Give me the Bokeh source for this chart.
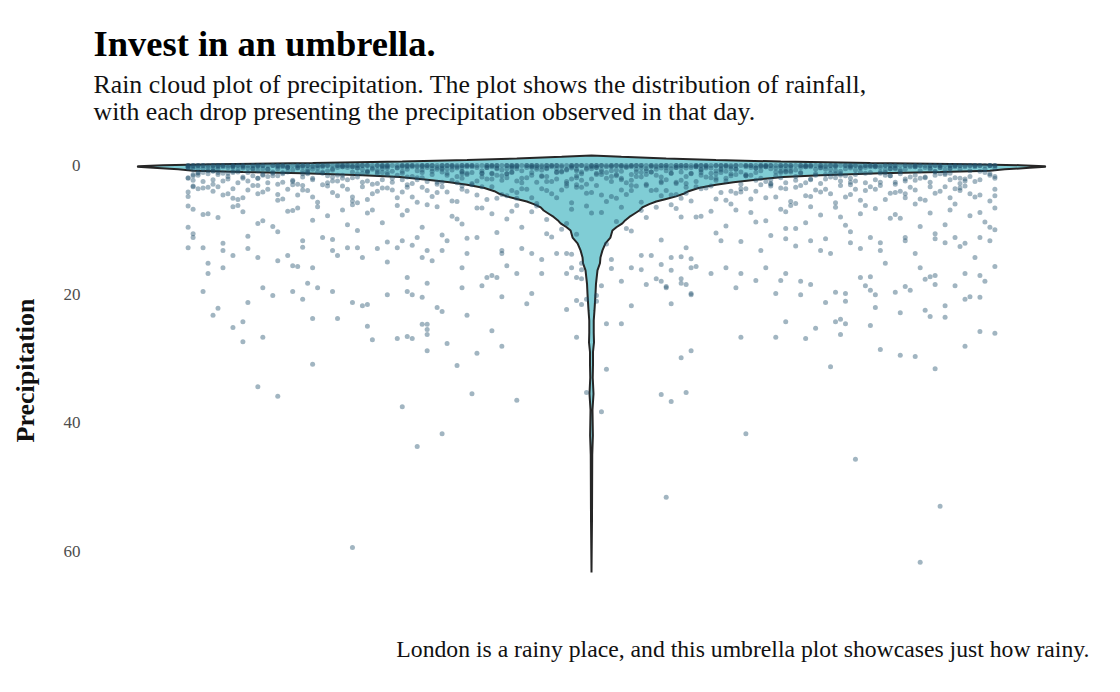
from bokeh.plotting import figure
from bokeh.models import Range1d, FixedTicker, Title
from bokeh.embed import file_html
from bokeh.resources import INLINE

title_text = "Invest in an umbrella."
subtitle_lines = [
    "Rain cloud plot of precipitation. The plot shows the distribution of rainfall,",
    "with each drop presenting the precipitation observed in that day.",
]
caption_text = "London is a rainy place, and this umbrella plot showcases just how rainy."
y_label = "Precipitation"
precip_ticks = [0, 20, 40, 60]

# violin outline: precipitation level (mm) and half width (x units, frame spans -100..100)
violin_level = [-1.55, -1.35, -1.1, -0.85, -0.62, -0.4, -0.2, -0.05, 0.1, 0.2, 0.35, 0.6, 0.8,
                1.0, 1.2, 1.5, 1.8, 2.2, 2.6, 3.0, 3.5, 4.0, 4.4, 4.8, 5.2, 5.6, 6.0, 6.5, 7.0,
                7.5, 8.0, 8.5, 9.0, 9.6, 10.1, 11.2, 12.1, 13.2, 14.3, 15.2, 16.3, 18.4, 20.0,
                22.5, 24.1, 26.0, 27.5, 29.0, 31.0, 33.0, 35.5, 38.0, 42.0, 45.0, 55.0, 63.3]
violin_halfwidth = [0, 6, 15, 25, 38, 56, 76, 86, 91, 91.2, 88, 83, 80,
                    70, 58, 46, 38.5, 33, 28.5, 25, 21.5, 19.5, 18.5, 17, 15, 13, 11.6, 10.2, 9.6,
                    8.6, 7.6, 6.8, 6.2, 5.0, 4.2, 3.8, 2.8, 2.2, 1.8, 1.7, 1.2, 0.9, 0.8,
                    0.6, 0.45, 0.45, 0.5, 0.3, 0.3, 0.25, 0.4, 0.2, 0.28, 0.15, 0.1, 0]

# dry days (0 mm), horizontal jitter
dry_day_jitter = [
    -81, -79, -78, -75, -73, -72, -70, -67, -66, -64, -61, -60, -58, -56, -53, -52, -50, -48, -45, -44,
    -42, -39, -38, -36, -34, -31, -30, -28, -25, -24, -22, -20, -17, -16, -14, -11, -10, -8, -6, -3,
    -2, 0, 2, 4, 7, 8, 10, 13, 14, 16, 18, 21, 22, 24, 27, 28, 30, 33, 34, 36,
    38, 41, 42, 44, 47, 48, 50, 53, 54, 56, 59, 60, 62, 64, 67, 68, 70, 73, 74, 76, 78, 80,
    -80, -77, -76, -74, -71, -69, -68, -65, -63, -62, -59, -57, -55, -54, -51, -49, -47, -46, -43, -41,
    -40, -37, -35, -33, -32, -29, -27, -26, -23, -21, -19, -18, -15, -13, -12, -9, -7, -5, -4, -1,
    1, 3, 5, 6, 9, 11, 12, 15, 17, 19, 20, 23, 25, 26, 29, 31, 32, 35, 37, 39,
    40, 43, 45, 46, 49, 51, 52, 55, 57, 58, 61, 63, 65, 66, 69, 71, 72, 75, 77, 79, 81,
    -80, -76, -72, -68, -64, -59, -55, -51, -47, -43, -38, -34, -30, -26, -21, -17, -13, -9, -4, 0,
    4, 8, 12, 17, 21, 25, 29, 34, 38, 42, 46, 51, 55, 59, 63, 68, 72, 76, 80,
    -81, -78, -74, -70, -66, -62, -57, -53, -49, -45, -41, -36, -32, -28, -24, -19, -15, -11, -7, -2,
    2, 6, 10, 15, 19, 23, 27, 32, 36, 40, 44, 49, 53, 57, 61, 66, 70, 74, 78, 81,
    -79, -75, -71, -67, -63, -58, -54, -50, -46, -42, -37, -33, -29, -25, -20, -16, -12, -8, -3, 1,
    5, 9, 14, 18, 22, 26, 31, 35, 39, 43, 48, 52, 56, 60, 65, 69, 73, 77, 80,
]

# drizzle days (0.2 - 1.4 mm)
drizzle_jitter = [
    -80, -75, -69, -64, -58, -53, -47, -42, -37, -31, -26, -20, -15, -9, -4, 2, 7, 13, 18, 24, 29, 35, 40, 46, 51, 57, 62, 68, 73, 79,
    -78, -72, -67, -61, -56, -50, -45, -39, -34, -28, -23, -17, -12, -6, -1, 4, 10, 15, 21, 26, 32, 37, 43, 48, 54, 59, 65, 70, 76, 81,
    -81, -76, -70, -65, -59, -54, -49, -43, -38, -32, -27, -22, -16, -11, -5, 0, 6, 11, 17, 22, 28, 33, 39, 44, 50, 55, 61, 66, 72, 77,
    -79, -74, -71, -66, -62, -57, -51, -46, -41, -35, -30, -24, -18, -13, -7, -2, 3, 9, 14, 20, 25, 31, 36, 41, 47, 52, 58, 63, 69, 75,
    -77, -73, -68, -63, -60, -55, -48, -44, -40, -33, -29, -25, -19, -14, -10, -3, 1, 5, 12, 16, 23, 27, 34, 38, 45, 49, 56, 60, 67, 71,
    -81, -76, -72, -65, -61, -56, -52, -45, -41, -36, -31, -26, -21, -15, -10, -4, 0, 7, 11, 18, 22, 27, 33, 38, 42, 49, 53, 60, 64, 74,
    -80, -77, -73, -67, -63, -58, -54, -47, -43, -39, -34, -28, -24, -19, -12, -8, -3, 2, 6, 13, 17, 24, 28, 35, 39, 46, 50, 57, 62, 70,
    -79, -75, -70, -66, -61, -57, -50, -46, -42, -37, -32, -27, -21, -17, -11, -6, -1, 4, 10, 15, 21, 26, 31, 37, 43, 47, 54, 58, 65, 72,
    -81, -76, -72, -68, -62, -59, -52, -48, -44, -38, -35, -30, -26, -22, -16, -9, -5, 1, 8, 12, 19, 23, 29, 34, 40, 45, 52, 61, 68, 78,
]
drizzle_mm = [
    0.2, 0.6, 0.4, 1.0, 0.2, 0.8, 0.4, 0.2, 0.6, 0.3, 0.9, 0.2, 0.5, 0.4, 0.2, 0.7, 0.3, 0.2, 1.0, 0.4, 0.6, 0.2, 0.8, 0.3, 0.5, 0.2, 0.9, 0.4, 0.2, 0.6,
    0.5, 0.2, 0.8, 0.3, 0.6, 0.2, 1.0, 0.4, 0.2, 0.7, 0.3, 0.5, 0.2, 0.9, 0.6, 0.2, 0.4, 0.8, 0.2, 0.5, 0.3, 1.0, 0.2, 0.6, 0.4, 0.7, 0.2, 0.3, 0.8, 0.4,
    0.3, 0.9, 0.2, 0.6, 0.4, 1.0, 0.3, 0.7, 0.2, 0.5, 0.2, 0.8, 0.4, 0.3, 0.6, 0.2, 0.9, 0.5, 0.3, 0.7, 0.2, 0.4, 0.6, 0.2, 0.9, 0.3, 0.5, 0.8, 0.4, 0.2,
    0.4, 0.2, 0.7, 0.5, 0.2, 0.9, 0.3, 0.6, 0.2, 0.8, 0.4, 0.2, 0.7, 0.3, 0.5, 1.0, 0.2, 0.6, 0.4, 0.3, 0.8, 0.2, 0.5, 0.7, 0.2, 0.4, 0.3, 0.6, 0.9, 0.2,
    0.8, 0.3, 0.5, 0.2, 0.7, 0.4, 0.2, 0.6, 0.9, 0.3, 0.5, 0.2, 0.4, 0.8, 0.2, 0.6, 0.3, 0.7, 0.2, 0.5, 0.4, 0.9, 0.2, 0.3, 0.6, 0.8, 0.2, 0.5, 0.3, 0.7,
    0.2, 0.4, 0.9, 0.6, 0.3, 0.2, 0.5, 0.8, 0.4, 0.2, 0.6, 1.0, 0.3, 0.2, 0.7, 0.4, 0.5, 0.2, 0.8, 0.3, 0.6, 0.2, 0.4, 0.9, 0.3, 0.2, 0.7, 0.5, 0.2, 0.6,
    0.6, 0.3, 1.2, 0.2, 0.5, 0.9, 0.2, 0.4, 1.3, 0.3, 0.7, 0.2, 1.1, 0.5, 0.3, 0.2, 0.8, 1.4, 0.2, 0.6, 0.3, 1.2, 0.5, 0.2, 0.9, 0.4, 1.3, 0.2, 0.7, 0.3,
    1.1, 0.2, 0.4, 1.4, 0.3, 0.6, 0.2, 1.2, 0.5, 0.2, 0.9, 0.4, 0.3, 1.3, 0.6, 0.2, 0.4, 0.8, 1.1, 0.3, 0.2, 0.7, 1.4, 0.4, 0.2, 0.6, 0.3, 1.0, 0.2, 0.5,
    0.4, 0.8, 0.2, 0.5, 1.1, 0.3, 0.7, 0.2, 0.4, 0.9, 0.2, 0.6, 0.3, 1.2, 0.2, 0.5, 0.7, 0.3, 0.2, 1.0, 0.4, 0.2, 0.6, 0.8, 0.3, 1.3, 0.2, 0.4, 0.6, 0.9,
]

# light rain days (1 - 3 mm)
light_jitter = [
    -79, -74, -68, -63, -57, -52, -46, -41, -35, -30, -24, -19, -13, -8, -2, 3, 9, 14, 20, 25, 31, 36, 42, 47, 53, 58, 64, 69, 75, 80,
    -81, -77, -71, -66, -60, -55, -48, -44, -38, -33, -27, -21, -16, -10, -5, 1, 6, 12, 17, 23, 28, 34, 39, 45, 50, 56, 61, 67, 72, 78,
    -80, -73, -69, -62, -58, -51, -47, -40, -36, -29, -25, -18, -14, -7, -3, 4, 8, 15, 19, 26, 30, 37, 41, 48, 52, 59, 63, 70, 74, 81,
    -78, -75, -70, -64, -59, -53, -49, -42, -37, -31, -26, -20, -15, -9, -4, 2, 7, 13, 18, 24, 29, 35, 40, 46, 51, 57, 62, 68, 73, 79,
    -80, -76, -71, -65, -60, -54, -50, -43, -39, -34, -28, -22, -17, -11, -6, 0, 5, 11, 16, 22, 27, 33, 38, 44, 49, 55, 60, 66, 71, 77,
    -81, -75, -69, -64, -58, -53, -48, -42, -36, -31, -25, -20, -14, -9, -3, 3, 8, 14, 19, 25, 30, 36, 41, 47, 52, 58, 63, 69, 74, 80,
    -78, -73, -67, -62, -56, -51, -45, -40, -34, -29, -23, -18, -12, -7, -1, 5, 10, 16, 21, 27, 32, 38, 43, 49, 54, 60, 65, 71, 76, 81,
    -80, -74, -70, -65, -61, -56, -50, -45, -41, -35, -30, -26, -20, -16, -10, -5, 1, 6, 11, 17, 22, 28, 33, 39, 44, 50, 55, 61, 67, 72,
    -79, -76, -72, -67, -63, -57, -52, -47, -43, -38, -32, -27, -22, -17, -12, -7, -2, 4, 9, 14, 20, 25, 31, 36, 42, 48, 53, 59, 65, 75,
]
light_mm = [
    1.2, 2.4, 1.6, 2.9, 1.1, 1.8, 2.6, 1.4, 2.2, 1.0, 2.8, 1.5, 1.9, 2.5, 1.3, 2.0, 1.7, 2.7, 1.2, 2.3, 1.6, 2.9, 1.1, 2.1, 1.4, 2.6, 1.8, 1.0, 2.4, 1.5,
    2.0, 1.3, 2.7, 1.5, 2.3, 1.0, 1.9, 2.9, 1.2, 2.5, 1.7, 2.1, 1.1, 1.6, 2.8, 1.4, 2.2, 1.0, 2.6, 1.8, 1.3, 2.0, 2.7, 1.5, 2.4, 1.1, 2.9, 1.9, 1.2, 2.2,
    1.6, 2.1, 1.1, 2.6, 1.8, 2.4, 1.3, 2.0, 2.8, 1.5, 1.2, 2.3, 2.7, 1.0, 1.9, 2.5, 1.4, 2.2, 1.7, 1.1, 2.9, 1.6, 2.3, 1.2, 2.0, 1.5, 2.4, 1.3, 2.8, 1.7,
    2.5, 1.4, 2.0, 1.2, 2.9, 1.6, 2.2, 1.1, 1.8, 2.6, 2.0, 1.3, 2.4, 1.7, 2.1, 1.0, 2.7, 1.5, 2.3, 1.9, 1.4, 2.5, 1.0, 2.8, 1.6, 2.2, 1.3, 2.6, 1.9, 1.1,
    1.4, 2.2, 1.0, 1.7, 2.5, 1.2, 2.0, 2.8, 1.5, 1.1, 2.3, 1.8, 1.3, 2.6, 1.0, 2.1, 1.6, 2.9, 1.2, 1.5, 2.4, 1.1, 1.9, 2.2, 1.3, 2.7, 1.6, 2.0, 1.4, 2.5,
    1.9, 1.1, 2.4, 1.6, 1.3, 2.7, 1.0, 2.2, 1.7, 2.9, 1.4, 1.2, 2.0, 2.5, 1.6, 1.1, 2.3, 1.8, 2.8, 1.3, 1.0, 2.2, 1.7, 1.4, 2.6, 1.2, 2.1, 1.5, 2.0, 1.3,
    1.1, 1.7, 2.0, 1.3, 2.2, 1.5, 1.0, 2.6, 1.9, 1.2, 2.4, 1.6, 1.1, 2.1, 2.9, 1.4, 1.8, 1.2, 2.5, 2.0, 1.5, 1.1, 2.7, 1.9, 1.0, 1.6, 2.3, 1.2, 1.7, 2.0,
    2.3, 1.2, 1.8, 2.7, 1.0, 2.0, 1.5, 2.4, 1.1, 1.9, 2.6, 1.3, 2.1, 1.0, 1.7, 2.5, 1.2, 2.0, 1.4, 2.8, 1.1, 1.6, 2.3, 1.0, 2.1, 1.5, 1.2, 2.6, 1.8, 2.2,
    1.5, 2.9, 1.1, 2.0, 1.6, 1.3, 2.4, 1.8, 1.0, 2.2, 1.4, 2.7, 1.2, 1.9, 1.5, 1.1, 2.3, 1.7, 1.0, 2.5, 1.3, 2.0, 1.6, 2.8, 1.2, 1.8, 2.4, 1.1, 1.5, 2.1,
]

# moderate rain days (3 - 6 mm)
moderate_jitter = [
    -80, -74, -69, -63, -58, -52, -47, -41, -36, -30, -25, -19, -14, -8, -3, 3, 8, 14, 19, 25, 30, 36, 41, 47, 52, 58, 63, 69, 74, 80,
    -81, -77, -71, -66, -61, -55, -50, -44, -39, -33, -28, -22, -17, -11, -6, 0, 5, 11, 16, 22, 27, 33, 38, 44, 49, 55, 60, 66, 71, 77,
    -79, -72, -67, -60, -56, -49, -45, -38, -34, -27, -23, -16, -12, -5, -1, 6, 10, 17, 21, 28, 32, 39, 43, 50, 54, 61, 65, 72, 76, 81,
    -81, -75, -70, -65, -59, -54, -48, -43, -37, -32, -26, -21, -15, -10, -4, 1, 7, 12, 18, 23, 29, 34, 40, 45, 51, 56, 62, 67, 73, 78,
    -78, -73, -68, -62, -57, -51, -46, -40, -35, -29, -24, -18, -13, -7, -2, 4, 9, 15, 20, 26, 31, 37, 42, 48, 53, 59, 64, 70, 75, 81,
    -80, -76, -72, -67, -63, -58, -53, -48, -42, -37, -31, -26, -20, -15, -9, -3, 2, 8, 13, 19, 24, 30, 35, 41, 46, 52, 57, 63, 68, 74,
]
moderate_mm = [
    3.2, 4.6, 3.8, 5.4, 3.1, 4.2, 5.8, 3.5, 4.9, 3.3, 4.0, 5.1, 3.6, 4.4, 3.0, 5.6, 3.9, 4.7, 3.4, 5.2, 4.1, 3.2, 5.9, 3.7, 4.5, 3.1, 5.0, 4.3, 3.5, 5.5,
    4.8, 3.4, 5.3, 4.1, 3.7, 5.7, 3.2, 4.4, 5.0, 3.9, 5.5, 3.3, 4.7, 5.9, 3.8, 4.2, 5.1, 3.1, 4.6, 3.6, 5.4, 4.0, 3.5, 4.8, 5.8, 3.9, 4.3, 5.2, 3.3, 4.9,
    3.6, 5.1, 4.4, 3.0, 4.9, 3.7, 5.3, 4.1, 3.4, 5.6, 4.6, 3.9, 5.0, 3.2, 4.3, 3.8, 5.7, 4.5, 3.3, 4.0, 5.2, 3.6, 4.7, 3.1, 5.4, 4.2, 3.8, 5.0, 4.4, 3.7,
    4.1, 3.3, 5.0, 3.7, 4.6, 3.0, 5.5, 4.0, 3.4, 4.8, 3.2, 5.3, 4.2, 3.6, 5.8, 3.1, 4.5, 3.9, 5.1, 3.5, 4.3, 3.0, 5.6, 3.8, 4.9, 3.3, 4.0, 5.4, 3.6, 4.6,
    3.5, 4.4, 3.1, 5.2, 3.9, 4.7, 3.3, 3.8, 5.7, 4.1, 3.0, 4.5, 3.7, 5.0, 3.4, 4.8, 3.2, 3.9, 5.5, 4.2, 3.6, 4.9, 3.1, 4.4, 3.7, 5.3, 3.4, 4.0, 3.2, 4.7,
    3.3, 4.0, 3.6, 3.1, 4.5, 3.8, 3.2, 4.9, 3.5, 3.0, 4.2, 3.7, 3.3, 5.1, 3.9, 3.4, 4.6, 3.1, 3.8, 4.3, 3.2, 3.6, 5.0, 3.4, 4.1, 3.0, 3.7, 4.4, 3.3, 3.9,
]

# steady rain days (6 - 10 mm)
steady_jitter = [
    -81, -75, -70, -64, -59, -53, -48, -42, -37, -31, -26, -20, -15, -9, -4, 2, 7, 13, 18, 24, 29, 35, 40, 46, 51, 57, 62, 68, 73, 79,
    -78, -72, -67, -61, -56, -50, -45, -39, -34, -28, -23, -17, -12, -6, -1, 5, 10, 16, 21, 27, 32, 38, 43, 49, 54, 60, 65, 71, 76, 81,
    -80, -77, -71, -66, -60, -55, -49, -44, -38, -33, -27, -22, -16, -11, -5, 0, 6, 11, 17, 22, 28, 33, 39, 44, 50, 55, 61, 66, 72, 78,
]
steady_mm = [
    6.3, 8.1, 7.2, 9.5, 6.6, 7.8, 6.1, 8.9, 7.0, 6.4, 9.1, 7.5, 6.2, 8.4, 6.8, 7.3, 9.8, 6.5, 8.0, 7.1, 6.9, 8.6, 6.2, 7.7, 9.3, 6.7, 8.2, 7.4, 6.0, 8.8,
    7.6, 6.4, 9.0, 7.1, 8.5, 6.9, 7.4, 6.2, 9.6, 7.9, 6.6, 8.3, 7.2, 9.9, 6.3, 8.7, 7.0, 6.1, 8.0, 9.4, 7.3, 6.8, 8.9, 6.5, 7.5, 8.2, 6.0, 9.2, 7.8, 6.6,
    6.8, 7.5, 6.2, 8.6, 7.0, 6.4, 9.2, 6.9, 7.7, 6.1, 8.3, 6.6, 7.1, 6.3, 9.0, 7.4, 6.5, 8.1, 6.7, 7.9, 6.0, 8.8, 7.2, 6.4, 8.0, 6.2, 7.6, 9.5, 6.9, 7.3,
]

# wet days (10 - 13 mm)
wet_jitter = [-80, -74, -69, -63, -58, -52, -47, -41, -36, -30, -25, -19, -14, -8, -3, 3, 8, 14, 19, 25, 30, 36, 41, 47, 52, 58, 63, 69, 74, 80]
wet_mm = [10.6, 12.1, 11.0, 10.3, 12.7, 11.5, 10.1, 11.9, 12.4, 10.8, 11.3, 10.4, 12.9, 11.1, 10.7, 12.2, 10.2, 11.6, 12.8, 10.5, 11.8, 10.9, 12.5, 11.4, 10.3, 12.0, 11.2, 10.6, 12.6, 11.7]

# heavy rain days (jitter, mm), read one by one
heavy_rain = [
    (-78, 19.6), (-64, 20.2), (-60, 19.6), (-52, 19.6), (-58, 20.8), (-69, 21.3), (-75, 22.2), (-76, 23.3), (-70, 24.3), (-72, 25.2),
    (-70, 27.4), (-66, 26.7), (-56, 23.8), (-51, 23.8), (-48, 21.3), (-46, 21.8), (-45, 21.6), (-45, 25.0), (-44, 27.1), (-41, 20.1),
    (-37, 19.6), (-36, 20.1), (-34, 20.5), (-39, 26.9), (-37, 26.6), (-36, 26.9), (-34, 24.7), (-33, 24.7), (-33, 25.5), (-33, 26.3),
    (-33, 28.8), (-29, 27.7), (-31, 22.1), (-30, 22.7), (-25, 23.3), (-20, 25.7), (-18, 28.1), (-23, 29.2), (-27, 31.1), (-18, 20.4),
    (-12, 19.9), (-13, 21.5), (-5, 22.4), (-3, 21.0), (-3, 26.7), (-56, 30.9), (-67, 34.4), (-63, 35.9), (-38, 37.5), (-24, 35.5),
    (-15, 36.5), (-30, 41.7), (-35, 43.7), (-48, 59.4),
    (-18, 13.7), (-12, 13.7), (-7, 13.7), (-5, 13.7), (-4, 13.8), (-17, 15.6), (-15, 16.8), (-10, 14.6), (-10, 16.8), (-5, 16.8),
    (-4, 15.9), (-21, 17.4), (-20, 17.1), (-19, 17.4), (-22, 18.7), (-2, 15.2), (-2, 16.2), (-3, 17.4), (-2, 17.6), (-1, 20.8),
    (-2, 21.6), (1, 20.2), (1, 21.1), (2, 18.7), (4, 14.6), (4, 16.0), (6, 18.0), (8, 21.8), (3, 24.6), (6, 24.6),
    (-1, 35.3), (3, 31.7), (2, 38.3), (14, 35.6), (16, 36.7), (19, 35.3), (18, 29.9), (20, 28.8), (16, 21.5), (15, 18.8),
    (14, 18.0), (11, 18.5), (10, 16.2), (10, 14.0), (12, 14.0), (14, 15.4), (16, 14.3), (16, 16.3), (18, 18.3), (19, 18.5),
    (20, 20.1), (20, 15.9), (21, 15.7), (20, 14.5), (18, 14.2), (15, 51.6),
    (81, 15.7), (78, 17.1), (79, 18.0), (75, 16.8), (73, 18.7), (69, 18.5), (69, 17.1), (68, 17.3), (67, 17.7), (63, 18.8),
    (64, 19.4), (61, 19.7), (66, 15.9), (57, 20.1), (56, 19.4), (56, 17.3), (54, 17.4), (55, 18.7), (51, 19.9), (51, 21.1),
    (49, 19.7), (47, 21.3), (44, 18.5), (42, 18.0), (42, 20.1), (38, 17.9), (39, 24.3), (45, 25.3), (49, 24.3), (50, 23.9),
    (51, 24.6), (50, 26.3), (43, 26.9), (56, 24.9), (57, 22.1), (62, 22.9), (67, 22.5), (68, 23.5), (71, 21.8), (71, 23.6),
    (75, 20.8), (76, 20.4), (78, 20.5), (78, 25.8), (81, 26.1),
    (30, 26.7), (37, 26.7), (48, 31.3), (58, 28.6), (62, 29.5), (65, 29.7), (69, 31.6), (75, 28.1), (31, 41.7), (53, 45.7),
    (70, 53.0), (66, 61.7),
    (-81, 9.6), (-81, 12.8), (-78, 12.8), (-80, 11.2), (-77, 15.2), (-77, 16.8), (-74, 15.9), (-74, 13.2), (-66, 19.0), (-57, 18.3),
    (-55, 19.0), (-39, 12.8), (-72, 14.0), (-69, 12.9), (-67, 14.3), (-63, 14.8), (-61, 14.0), (-60, 15.6), (-59, 15.7), (-58, 11.7),
    (-56, 15.9), (-54, 11.2), (-52, 13.2), (-51, 14.0), (-49, 12.8), (-47, 12.8), (-46, 14.3), (-43, 12.9), (-41, 15.0),
    (-38, 11.7), (-35, 11.2), (-33, 13.2), (-37, 17.4), (-33, 18.3), (-26, 19.0), (-29, 11.7), (-26, 15.9), (-25, 13.7), (-23, 11.2),
    (-32, 14.8), (-34, 14.3), (-30, 13.2), (-18, 13.2), (-14, 9.6), (-9, 10.6),
    (8, 15.9), (13, 17.6), (15, 19.0), (18, 17.6), (20, 19.9), (24, 16.8), (27, 15.9), (30, 16.8), (33, 17.9), (37, 19.9),
    (39, 16.8), (35, 15.9), (29, 19.0), (26, 11.7), (34, 13.2),
    (39, 11.4), (41, 9.8), (44, 11.7), (46, 13.2), (48, 13.7), (52, 12.0), (54, 12.9), (56, 11.2), (58, 13.2), (59, 15.2),
    (63, 11.7), (65, 13.7), (69, 11.4), (71, 12.0), (73, 11.2), (75, 12.1), (78, 11.2), (80, 9.6), (81, 10.0), (77, 14.3), (39, 9.8),
]

# ---- assemble points ----
pt_x = list(dry_day_jitter)
pt_y = [0.0] * len(dry_day_jitter)
for jit, mm in [(drizzle_jitter, drizzle_mm), (light_jitter, light_mm), (moderate_jitter, moderate_mm),
                (steady_jitter, steady_mm), (wet_jitter, wet_mm)]:
    for a, b in zip(jit, mm):
        pt_x.append(a)
        pt_y.append(b)
for a, b in heavy_rain:
    pt_x.append(a)
    pt_y.append(b)

# ---- violin polygon ----
vx = list(violin_halfwidth) + [-w for w in reversed(violin_halfwidth)]
vy = list(violin_level) + list(reversed(violin_level))

SERIF = "Liberation Serif"

p = figure(width=1120, height=692, x_range=Range1d(-100, 100), y_range=Range1d(67.65, -3.89),
           output_backend="svg", toolbar_location=None, x_axis_location=None, title=None,
           min_border_left=93, min_border_right=31, min_border_top=140, min_border_bottom=92)
p.outline_line_color = None
p.background_fill_color = "white"
p.border_fill_color = "white"
p.xgrid.visible = False
p.ygrid.visible = False

p.patch(vx, vy, fill_color="#80cdd5", line_color="#262626", line_width=2)
p.scatter(pt_x, pt_y, size=5, fill_color="#1f4e6b", fill_alpha=0.42, line_color=None)

ax = p.yaxis[0]
ax.ticker = FixedTicker(ticks=precip_ticks)
ax.axis_label = y_label
ax.axis_label_text_font = SERIF
ax.axis_label_text_font_size = "26px"
ax.axis_label_text_font_style = "bold"
ax.axis_label_text_color = "#111111"
ax.axis_label_standoff = 21
ax.major_label_text_font = SERIF
ax.major_label_text_font_size = "17px"
ax.major_label_text_color = "#4d4d4d"
ax.major_label_standoff = 13
ax.axis_line_color = None
ax.major_tick_line_color = None
ax.minor_tick_line_color = None
ax.major_tick_out = 0
ax.major_tick_in = 0

# titles (first added sits nearest the frame)
p.add_layout(Title(text=" ", text_font_size="10px", standoff=3.5), "above")
p.add_layout(Title(text=subtitle_lines[1], align="left", text_font=SERIF, text_font_size="25.8px",
                   text_font_style="normal", text_color="#111111", standoff=-4.5), "above")
p.add_layout(Title(text=subtitle_lines[0], align="left", text_font=SERIF, text_font_size="25.8px",
                   text_font_style="normal", text_color="#111111", standoff=-4.5), "above")
p.add_layout(Title(text=title_text, align="left", text_font=SERIF, text_font_size="36.5px",
                   text_font_style="bold", text_color="#000000", standoff=11.2), "above")

p.add_layout(Title(text=" ", text_font_size="10px", standoff=19.5), "below")
p.add_layout(Title(text=caption_text, align="right", text_font=SERIF, text_font_size="23.7px",
                   text_font_style="normal", text_color="#111111", standoff=0), "below")

open("out.html", "w").write(file_html(p, INLINE))
